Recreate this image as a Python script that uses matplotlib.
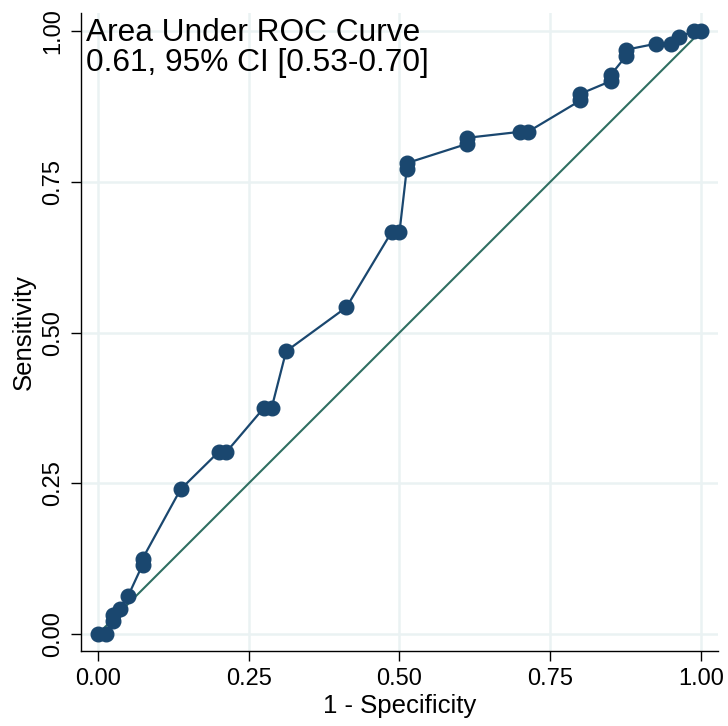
import matplotlib
matplotlib.use("Agg")
import matplotlib.pyplot as plt

# ROC points (1 - specificity, sensitivity)
fpr = [0.0, 0.013, 0.025, 0.025, 0.037, 0.05, 0.074, 0.074, 0.137, 0.2, 0.213,
       0.275, 0.288, 0.312, 0.412, 0.487, 0.5, 0.512, 0.512, 0.612, 0.612,
       0.7, 0.713, 0.8, 0.8, 0.85, 0.85, 0.875, 0.875, 0.925, 0.95, 0.963,
       0.988, 1.0]
tpr = [0.0, 0.0, 0.021, 0.031, 0.042, 0.063, 0.115, 0.125, 0.24, 0.302, 0.302,
       0.375, 0.375, 0.469, 0.542, 0.667, 0.667, 0.771, 0.781, 0.813, 0.823,
       0.833, 0.833, 0.885, 0.896, 0.917, 0.927, 0.958, 0.969, 0.979, 0.979,
       0.99, 1.0, 1.0]
ticks = [0, 0.25, 0.5, 0.75, 1.0]
tick_labels = ["0.00", "0.25", "0.50", "0.75", "1.00"]
auc_text = "Area Under ROC Curve\n0.61, 95% CI [0.53-0.70]"

plt.rcParams['font.family'] = ['Liberation Sans', 'DejaVu Sans']

fig = plt.figure(figsize=(7.28, 7.26), dpi=100)
ax = fig.add_axes([81/728, 75/726, 637/728, 638/726])

navy = '#1a476f'
ax.plot(fpr, tpr, color=navy, lw=1.6, marker='o', ms=10.5, mec=navy, mfc=navy, zorder=3)
ax.plot([0, 1], [0, 1], color='#2f6f62', lw=1.5, zorder=2)

ax.set_xlim(-0.028, 1.028)
ax.set_ylim(-0.028, 1.03)
ax.set_xticks(ticks)
ax.set_xticklabels(tick_labels)
ax.set_yticks(ticks)
ax.set_yticklabels(tick_labels, rotation=90, va='center')
ax.grid(True, color='#eaf2f3', lw=1.8)
ax.set_axisbelow(True)

for s in ['top', 'right']:
    ax.spines[s].set_visible(False)
for s in ['left', 'bottom']:
    ax.spines[s].set_linewidth(1.0)
ax.tick_params(direction='out', length=7, width=1.0, labelsize=17, pad=5)

ax.set_xlabel('1 - Specificity', fontsize=18.5, labelpad=3)
ax.set_ylabel('Sensitivity', fontsize=18.5, labelpad=5)

fig.text(86/728, 1 - 18/726, auc_text, fontsize=22.8, va='top', ha='left',
         linespacing=1.0)

plt.savefig("out.png", dpi=100)
